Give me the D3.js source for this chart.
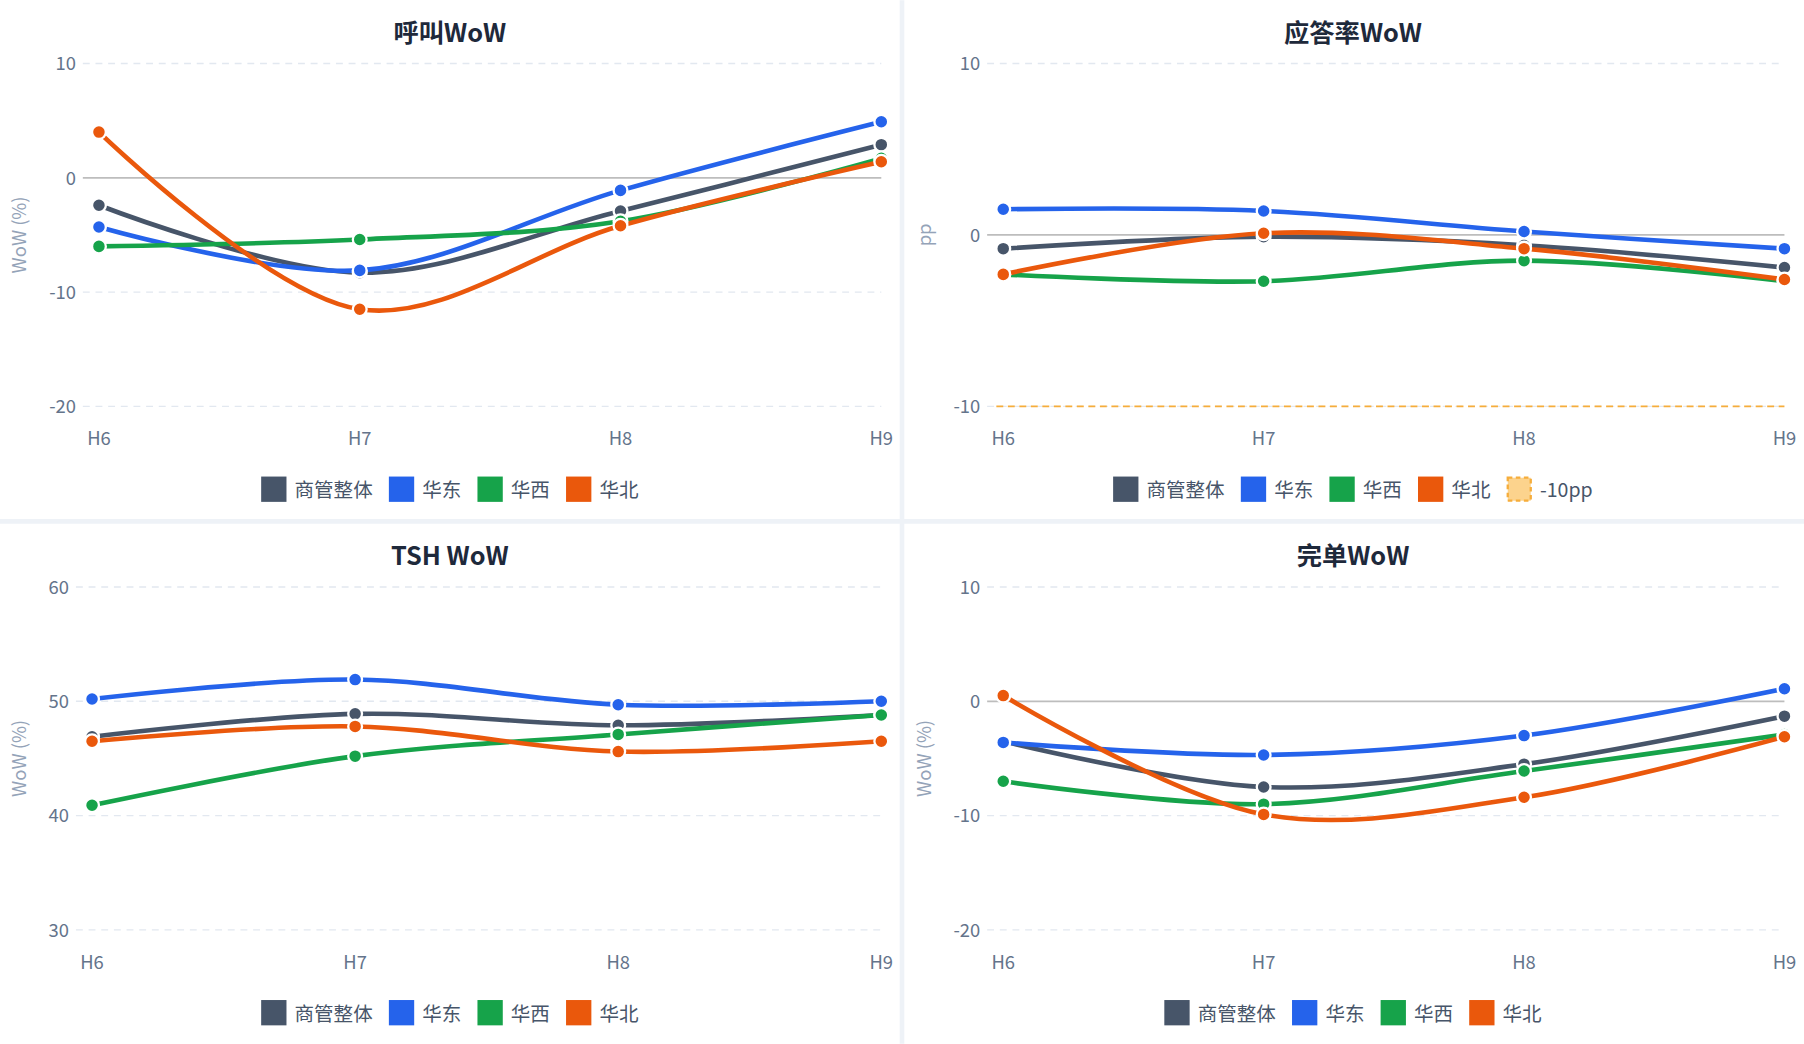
<!DOCTYPE html><html><head><meta charset="utf-8">
<script src="https://cdn.jsdelivr.net/npm/d3@7"></script>
<style>body{margin:0;background:#fff}svg{display:block}text{font-family:"Noto Sans CJK SC","Liberation Sans",sans-serif}</style></head><body>
<script>
const categories=["H6","H7","H8","H9"];
const seriesNames=["商管整体","华东","华西","华北"];
const colors=["#475569","#2563eb","#16a34a","#ea580c"];
const callWoW=[[-2.4,-8.3,-2.9,2.9],[-4.3,-8.1,-1.1,4.9],[-6.0,-5.4,-3.8,1.7],[4.0,-11.5,-4.2,1.4]];
const answerWoW=[[-0.8,-0.1,-0.6,-1.9],[1.5,1.4,0.2,-0.8],[-2.3,-2.7,-1.5,-2.7],[-2.3,0.1,-0.8,-2.6]];
const tshWoW=[[46.9,48.9,47.9,48.8],[50.2,51.9,49.7,50.0],[40.9,45.2,47.1,48.8],[46.5,47.8,45.6,46.5]];
const doneWoW=[[-3.5,-7.5,-5.5,-1.3],[-3.6,-4.7,-3.0,1.1],[-7.0,-9.0,-6.1,-2.9],[0.5,-9.9,-8.4,-3.1]];
const ticks1=[-20,-10,0,10], ticks3=[30,40,50,60];

const svg=d3.select("body").append("svg").attr("width",1804).attr("height",1044).attr("viewBox","0 0 1568 907");
svg.append("line").attr("x1",784).attr("x2",784).attr("y1",0).attr("y2",907).attr("stroke","#eef2f7").attr("stroke-width",4);
svg.append("line").attr("x1",0).attr("x2",1568).attr("y1",453).attr("y2",453).attr("stroke","#eef2f7").attr("stroke-width",4);

const panels=[
 {title:"呼叫WoW",data:callWoW,ticks:ticks1,dom:[-20,10],x0:86,x1:766,y0:55,ox:0,oy:0,ylab:"WoW (%)",cx:391,zero:true},
 {title:"应答率WoW",data:answerWoW,ticks:ticks1,dom:[-10,10],x0:872,x1:1551,y0:55,ox:0,oy:0,ylab:"pp",cx:1176,zero:true,ref:-10,yb:353},
 {title:"TSH WoW",data:tshWoW,ticks:ticks3,dom:[30,60],x0:80,x1:766,y0:510,ylab:"WoW (%)",cx:391},
 {title:"完单WoW",data:doneWoW,ticks:ticks1,dom:[-20,10],x0:872,x1:1551,y0:510,ylab:"WoW (%)",cx:1176,zero:true}
];
panels.forEach((p,pi)=>{
  const g=svg.append("g");
  const yb=p.y0+298;
  const x=d3.scalePoint().domain(categories).range([p.x0,p.x1]);
  const y=d3.scaleLinear().domain(p.dom).range([p.yb||yb,p.y0]);
  const top=p.y0-55;
  g.append("text").attr("x",p.cx).attr("y",top+36).attr("text-anchor","middle").attr("font-size",22).attr("font-weight","bold").attr("fill","#1e293b").text(p.title);
  p.ticks.filter(t=>t>=p.dom[0]).forEach(t=>{
    if(!(p.zero&&t===0)) g.append("line").attr("x1",p.x0-14).attr("x2",p.x1).attr("y1",y(t)).attr("y2",y(t)).attr("stroke","#e2e8f0").attr("stroke-dasharray","6,5").attr("stroke-width",1.2);
    g.append("text").attr("x",p.x0-20).attr("y",y(t)+6).attr("text-anchor","end").attr("font-size",16).attr("fill","#64748b").attr("font-family","Liberation Sans").text(t);
  });
  if(p.zero) g.append("line").attr("x1",p.x0-14).attr("x2",p.x1).attr("y1",y(0)).attr("y2",y(0)).attr("stroke","#bdbdbd").attr("stroke-width",1.5);
  if(p.ref!==undefined) g.append("line").attr("x1",p.x0-6).attr("x2",p.x1).attr("y1",y(p.ref)).attr("y2",y(p.ref)).attr("stroke","#f6ad3b").attr("stroke-dasharray","6,4").attr("stroke-width",1.5);
  categories.forEach(c=>g.append("text").attr("x",x(c)).attr("y",yb+34).attr("text-anchor","middle").attr("font-size",16).attr("fill","#64748b").attr("font-family","Liberation Sans").text(c));
  const lx=p.x0<500?17:803, ly=(p.y0+yb)/2;
  g.append("text").attr("transform",`translate(${lx+6},${ly}) rotate(-90)`).attr("text-anchor","middle").attr("font-size",16).attr("fill","#94a3b8").attr("font-family","Liberation Sans").text(p.ylab);
  const line=d3.line().x((d,i)=>x(categories[i])).y(d=>y(d)).curve(d3.curveCatmullRom.alpha(0.5));
  p.data.forEach((s,si)=>{
    g.append("path").attr("d",line(s)).attr("fill","none").attr("stroke",colors[si]).attr("stroke-width",4);
  });
  p.data.forEach((s,si)=>{
    s.forEach((v,i)=>g.append("circle").attr("cx",x(categories[i])).attr("cy",y(v)).attr("r",6).attr("fill",colors[si]).attr("stroke","#fff").attr("stroke-width",2));
  });
  // legend
  const items=seriesNames.map((n,i)=>({n,c:colors[i]}));
  if(p.ref!==undefined) items.push({n:"-10pp",c:"#f6ad3b",dash:true});
  const widths=items.map(it=>22+7+(it.n==="-10pp"?46:it.n.length*17)+14);
  const total=d3.sum(widths)-14;
  let cx=p.cx-total/2; const lyy=top+425;
  items.forEach((it,i)=>{
    if(it.dash) g.append("rect").attr("x",cx+1).attr("y",lyy-10).attr("width",20).attr("height",20).attr("fill","#fcd38d").attr("stroke","#f6ad3b").attr("stroke-width",2).attr("stroke-dasharray","4,3");
    else g.append("rect").attr("x",cx).attr("y",lyy-11).attr("width",22).attr("height",22).attr("fill",it.c);
    g.append("text").attr("x",cx+29).attr("y",lyy+7).attr("font-size",17).attr("fill","#475569").text(it.n);
    cx+=widths[i];
  });
});
</script></body></html>
